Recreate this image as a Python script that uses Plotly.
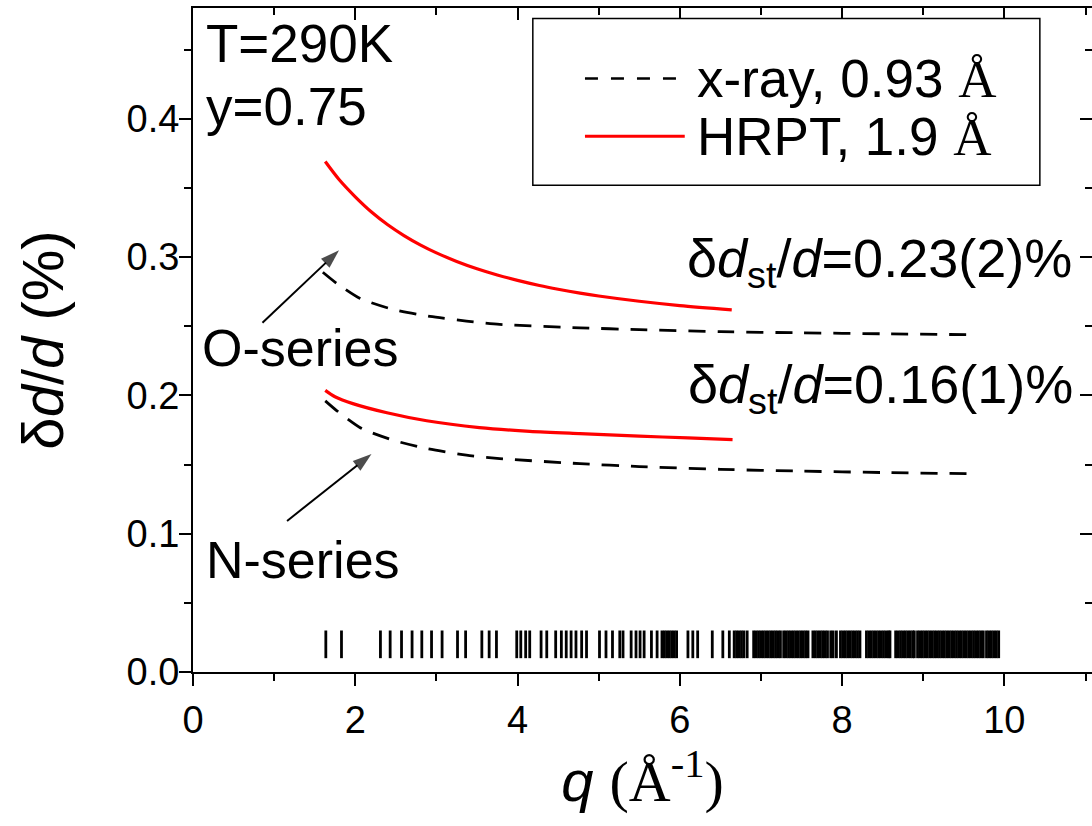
import plotly.graph_objects as go

# ---------------- data ----------------
q_O_xray = [1.60, 1.77, 2.06, 2.47, 2.92, 3.37, 3.78, 4.77, 5.5, 6.5, 7.5, 8.5, 9.6]
d_O_xray = [0.289, 0.281, 0.270, 0.262, 0.257, 0.2537, 0.2513, 0.2488, 0.2475, 0.246, 0.2452, 0.2445, 0.2438]

q_O_hrpt = [1.63, 1.80, 2.00, 2.20, 2.40, 2.60, 2.80, 3.00, 3.25, 3.50, 3.75, 4.00, 4.27, 4.50, 4.77,
            5.00, 5.50, 6.00, 6.64]
d_O_hrpt = [0.369, 0.356, 0.3435, 0.3325, 0.3233, 0.3155, 0.3088, 0.3030, 0.2968, 0.2915, 0.2870, 0.2831,
            0.2794, 0.2767, 0.2739, 0.2718, 0.2680, 0.2649, 0.2618]

q_N_xray = [1.63, 1.77, 2.08, 2.47, 2.88, 3.37, 3.78, 4.77, 5.5, 6.5, 7.5, 8.5, 9.6]
d_N_xray = [0.196, 0.189, 0.176, 0.1675, 0.1615, 0.1567, 0.1543, 0.1506, 0.1485, 0.1465, 0.1452, 0.1442, 0.1433]

q_N_hrpt = [1.63, 1.75, 1.97, 2.39, 2.88, 3.53, 4.15, 4.77, 5.5, 6.1, 6.65]
d_N_hrpt = [0.2036, 0.199, 0.194, 0.1874, 0.1816, 0.1767, 0.174, 0.1723, 0.1705, 0.1692, 0.168]

# Bragg reflection positions (q, 1/Angstrom)
refl_q = [
    1.637, 1.83,
    2.31, 2.43, 2.57, 2.70, 2.82, 2.94, 3.07,
    3.26, 3.36,
    3.56, 3.65, 3.74,
    3.99, 4.04, 4.10, 4.15,
    4.29, 4.36,
    4.47, 4.54, 4.60, 4.66, 4.72, 4.79, 4.85,
    5.01, 5.09, 5.17, 5.26,
    5.30, 5.40, 5.46, 5.51, 5.56,
    5.65, 5.72, 5.78, 5.81, 5.84, 5.87, 5.90, 5.93, 5.96,
    6.10, 6.16, 6.22,
    6.40,
    6.53, 6.61, 6.67, 6.70, 6.73, 6.76, 6.79, 6.83,
    6.91, 6.94, 6.97, 7.00, 7.03, 7.06, 7.09, 7.12, 7.15, 7.18, 7.21, 7.24,
    7.28, 7.31, 7.34, 7.37, 7.40, 7.43, 7.46, 7.49, 7.52, 7.55, 7.58,
    7.64, 7.67, 7.70, 7.73, 7.76, 7.79, 7.82,
    7.86, 7.89, 7.93,
    7.98, 8.01, 8.04, 8.07, 8.10, 8.13, 8.16, 8.19, 8.22,
    8.30, 8.33, 8.36, 8.39, 8.42, 8.45, 8.48, 8.51, 8.54, 8.57, 8.59,
    8.66, 8.69, 8.72, 8.75, 8.78, 8.81, 8.84, 8.87, 8.89,
    8.93, 8.96, 8.99, 9.02, 9.05, 9.08, 9.11, 9.14, 9.17, 9.20, 9.23, 9.26,
    9.29, 9.32, 9.35, 9.38, 9.41, 9.44, 9.47,
    9.50, 9.53, 9.56, 9.59, 9.62, 9.65, 9.68, 9.71, 9.74,
    9.78, 9.81, 9.84, 9.87, 9.90, 9.93,
]
refl_lo = 0.01
refl_hi = 0.03

# arrows: (tail q, tail y, head q, head y)
arrow_O = [0.856, 0.2524, 1.80, 0.3049]
arrow_N = [1.159, 0.1092, 2.20, 0.1576]

x_ticks = [0, 2, 4, 6, 8, 10]
y_ticks = [0.0, 0.1, 0.2, 0.3, 0.4]

# ---------------- figure ----------------
SANS = "Liberation Sans"
DASH = "17px,12px"

fig = go.Figure()

fig.add_trace(go.Scatter(x=q_O_xray, y=d_O_xray, mode="lines", name="x-ray, 0.93 Å (O-series)",
                         line=dict(color="black", width=2.8, dash=DASH, shape="spline", smoothing=0.6),
                         showlegend=False))
fig.add_trace(go.Scatter(x=q_O_hrpt, y=d_O_hrpt, mode="lines", name="HRPT, 1.9 Å (O-series)",
                         line=dict(color="#ff0000", width=3.2, shape="spline", smoothing=0.8), showlegend=False))
fig.add_trace(go.Scatter(x=q_N_xray, y=d_N_xray, mode="lines", name="x-ray, 0.93 Å (N-series)",
                         line=dict(color="black", width=2.8, dash=DASH, shape="spline", smoothing=0.6),
                         showlegend=False))
fig.add_trace(go.Scatter(x=q_N_hrpt, y=d_N_hrpt, mode="lines", name="HRPT, 1.9 Å (N-series)",
                         line=dict(color="#ff0000", width=3.2, shape="spline", smoothing=0.8), showlegend=False))

rx, ry = [], []
for q in refl_q:
    rx += [q, q, None]
    ry += [refl_lo, refl_hi, None]
fig.add_trace(go.Scatter(x=rx, y=ry, mode="lines", name="reflections",
                         line=dict(color="black", width=2.8), showlegend=False, hoverinfo="skip"))

for a in (arrow_O, arrow_N):
    fig.add_trace(go.Scatter(x=[a[0], a[2]], y=[a[1], a[3]], mode="lines+markers", showlegend=False,
                             hoverinfo="skip", line=dict(color="black", width=2),
                             marker=dict(symbol="arrow", size=[0, 20], angleref="previous", color="black",
                                         line=dict(width=0))))

# dummy trace for mirrored (inside) ticks on top/right
fig.add_trace(go.Scatter(x=[None], y=[None], xaxis="x2", yaxis="y2", showlegend=False, hoverinfo="skip"))

XR = [0, 11.08]
YR = [0, 0.48]

axis_common = dict(showgrid=False, zeroline=False, tickcolor="black", tickwidth=2, ticklen=12)

fig.update_layout(
    width=1092, height=826,
    margin=dict(l=193, r=0, t=8, b=154),
    paper_bgcolor="white", plot_bgcolor="white",
    showlegend=False,
    font=dict(family=SANS, color="black"),
    xaxis=dict(range=XR, tickmode="array", tickvals=x_ticks, ticks="outside",
               showline=True, linecolor="black", linewidth=2, mirror=True,
               minor=dict(ticks="outside", ticklen=7, tickwidth=2, tickcolor="black", dtick=1, tick0=0),
               tickfont=dict(size=38, family=SANS), ticklabelstandoff=1,
               title=dict(text='<i>q</i> <span style="font-family:Liberation Serif">(Å<sup>-1</sup>)</span>',
                          font=dict(size=58, family=SANS), standoff=19),
               **axis_common),
    yaxis=dict(range=YR, tickmode="array", tickvals=y_ticks, tickformat=".1f", ticks="outside",
               showline=True, linecolor="black", linewidth=2, mirror=False,
               minor=dict(ticks="outside", ticklen=7, tickwidth=2, tickcolor="black", dtick=0.05, tick0=0),
               tickfont=dict(size=38, family=SANS), ticklabelstandoff=-8,
               title=dict(text="δ<i>d</i>/<i>d</i> (%)", font=dict(size=58, family=SANS), standoff=44),
               **axis_common),
    xaxis2=dict(range=XR, overlaying="x", side="top", anchor="y2", tickmode="array", tickvals=x_ticks,
                ticks="inside", showticklabels=False, showline=False,
                minor=dict(ticks="inside", ticklen=7, tickwidth=2, tickcolor="black", dtick=1, tick0=0),
                **axis_common),
    yaxis2=dict(range=YR, overlaying="y", side="right", anchor="x2", tickmode="array", tickvals=y_ticks,
                ticks="inside", showticklabels=False, showline=False,
                minor=dict(ticks="inside", ticklen=7, tickwidth=2, tickcolor="black", dtick=0.05, tick0=0),
                **axis_common),
)

# ---------------- annotations ----------------
def txt(x, y, s, size=52, xanchor="left", yanchor="middle", xref="x", yref="y"):
    fig.add_annotation(x=x, y=y, xref=xref, yref=yref, text=s, showarrow=False,
                       xanchor=xanchor, yanchor=yanchor, font=dict(size=size, family=SANS, color="black"))

txt(0.13, 0.4545, "T=290K", size=53)
txt(0.13, 0.4085, "y=0.75", size=53)
txt(0.09, 0.2342, "O-series", size=52)
txt(0.13, 0.0811, "N-series", size=52)
txt(6.06, 0.2966, "δ<i>d</i><sub>st</sub>/<i>d</i>=0.23(2)%", size=54)
txt(6.07, 0.2055, "δ<i>d</i><sub>st</sub>/<i>d</i>=0.16(1)%", size=54)

# ---------------- manual legend ----------------
fig.add_shape(type="rect", xref="paper", yref="paper", x0=0.378, x1=0.942, y0=0.733, y1=0.984,
              line=dict(color="black", width=1.5), fillcolor="white", layer="above")
fig.add_shape(type="line", xref="paper", yref="paper", x0=0.436, x1=0.547, y0=0.894, y1=0.894,
              line=dict(color="black", width=2.5, dash="13px,13px"), layer="above")
fig.add_shape(type="line", xref="paper", yref="paper", x0=0.436, x1=0.547, y0=0.807, y1=0.807,
              line=dict(color="#ff0000", width=3), layer="above")
txt(0.558, 0.894, 'x-ray, 0.93 <span style="font-family:Liberation Serif">Å</span>', size=53,
    xref="paper", yref="paper")
txt(0.558, 0.807, 'HRPT, 1.9 <span style="font-family:Liberation Serif">Å</span>', size=53,
    xref="paper", yref="paper")

# remove the default 8px page margin so the figure sits at the window origin
fig.write_html("out.html", config={"displayModeBar": False},
               post_script="document.body.style.margin='0px';")
